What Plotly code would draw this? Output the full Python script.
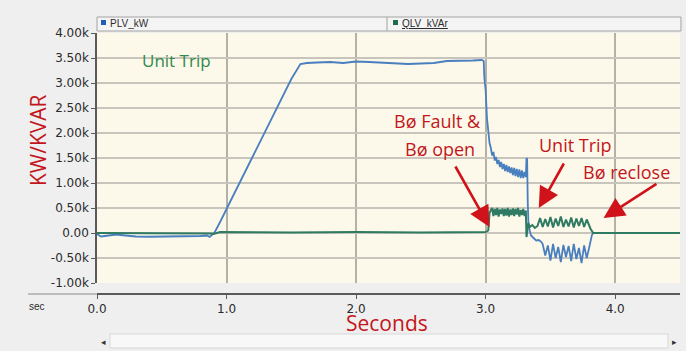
import plotly.graph_objects as go

# ---- data -------------------------------------------------------------
y_tick_vals = [4000, 3500, 3000, 2500, 2000, 1500, 1000, 500, 0, -500, -1000]
y_tick_text = ["4.00k", "3.50k", "3.00k", "2.50k", "2.00k", "1.50k", "1.00k",
               "0.50k", "0.00", "-0.50k", "-1.00k"]
x_tick_vals = [0, 1, 2, 3, 4]
x_tick_text = ["0.0", "1.0", "2.0", "3.0", "4.0"]

# active power PLV_kW (kW): idle, ramp, plateau
plv_t_run = [0.00, 0.03, 0.06, 0.10, 0.15, 0.20, 0.30, 0.40, 0.50, 0.60, 0.70,
             0.80, 0.85, 0.87, 0.89, 0.91, 0.95, 1.00, 1.10, 1.20, 1.30, 1.40,
             1.50, 1.57, 1.62, 1.70, 1.80, 1.90, 2.00, 2.10, 2.20, 2.30, 2.40,
             2.50, 2.60, 2.70, 2.80, 2.90, 2.97]
plv_kw_run = [-20, -70, -60, -40, -30, -45, -70, -75, -75, -70, -65,
              -60, -50, -80, -30, 20, 220, 470, 1000, 1520, 2040, 2570,
              3080, 3380, 3400, 3410, 3420, 3400, 3430, 3420, 3410, 3390, 3380,
              3390, 3400, 3440, 3440, 3450, 3460]
# fault, breaker open and unit trip
plv_t_fault = [2.985, 2.99, 3.00, 3.01, 3.02, 3.03, 3.04, 3.05, 3.06, 3.07, 3.08,
               3.09, 3.10, 3.11, 3.12, 3.13, 3.14, 3.15, 3.16, 3.17, 3.18, 3.19,
               3.20, 3.21, 3.22, 3.23, 3.24, 3.25, 3.26, 3.27, 3.28, 3.29, 3.30,
               3.31, 3.315, 3.32, 3.325, 3.33, 3.34, 3.35, 3.37, 3.39, 3.41, 3.43]
plv_kw_fault = [3440, 3100, 2850, 2300, 2020, 1800, 1700, 1550, 1620, 1450, 1520,
                1380, 1460, 1320, 1420, 1280, 1380, 1240, 1360, 1220, 1330, 1200,
                1310, 1160, 1300, 1140, 1280, 1120, 1270, 1100, 1250, 1100, 1220,
                1120, 1500, 1480, 600, 200, 50, -50, -100, -150, -140, -180]
# oscillation until reclose, then idle
plv_t_tail = [3.44, 3.46, 3.48, 3.50, 3.52, 3.54, 3.56, 3.58, 3.60, 3.62, 3.64,
              3.66, 3.68, 3.70, 3.72, 3.74, 3.76, 3.78, 3.80, 3.81, 3.82, 3.83,
              3.90, 4.00, 4.20, 4.50]
plv_kw_tail = [-220, -450, -250, -550, -220, -500, -280, -580, -240, -480, -260,
               -560, -220, -520, -300, -600, -250, -500, -280, -150, -40, 0,
               0, 10, 0, 0]

# reactive power QLV_kVAr (kVAr)
qlv_t = [0.00, 0.50, 0.88, 0.90, 0.95, 1.50, 2.00, 2.50, 3.00, 3.02, 3.03, 3.04,
         3.05, 3.06, 3.07, 3.08, 3.09, 3.10, 3.11, 3.12, 3.13, 3.14, 3.15, 3.16,
         3.17, 3.18, 3.19, 3.20, 3.21, 3.22, 3.23, 3.24, 3.25, 3.26, 3.27, 3.28,
         3.29, 3.30, 3.31, 3.315, 3.32, 3.33, 3.34, 3.36, 3.38, 3.40, 3.42, 3.44,
         3.46, 3.48, 3.50, 3.52, 3.54, 3.56, 3.58, 3.60, 3.62, 3.64, 3.66, 3.68,
         3.70, 3.72, 3.74, 3.76, 3.78, 3.80, 3.81, 3.83, 4.00, 4.50]
qlv_kvar = [0, 0, -10, -20, 20, 10, 20, 10, 20, 50, 400, 460,
            500, 340, 480, 360, 500, 330, 470, 380, 490, 340, 480, 350,
            500, 330, 470, 360, 490, 340, 480, 370, 500, 330, 460, 360,
            480, 340, 450, -80, 50, 200, 120, 160, 100, 140, 300, 120,
            280, 130, 320, 110, 290, 140, 330, 120, 270, 130, 310, 110,
            290, 140, 300, 120, 270, 130, 80, 0, 0, 0]

plv_t = plv_t_run + plv_t_fault + plv_t_tail
plv_kw = plv_kw_run + plv_kw_fault + plv_kw_tail

# ---- layout geometry (pixels) -----------------------------------------
W, H = 686, 351
ML, MR, MT, MB = 97, 6, 33, 57
PW, PH = W - ML - MR, H - MT - MB


def fx(px):
    return (px - ML) / PW


def fy(py):
    return (H - MB - py) / PH


RED = "#c3161c"
GREEN = "#2e8a4c"
TXT = "#2b2b2b"

fig = go.Figure()
fig.add_trace(go.Scatter(x=plv_t, y=plv_kw, mode="lines", name="PLV_kW",
                         line=dict(color="#4a7fbf", width=1.8)))
fig.add_trace(go.Scatter(x=qlv_t, y=qlv_kvar, mode="lines", name="QLV_kVAr",
                         line=dict(color="#2f7a62", width=2)))

fig.update_layout(
    width=W, height=H,
    margin=dict(l=ML, r=MR, t=MT, b=MB),
    paper_bgcolor="#efefef",
    plot_bgcolor="#fdf9ea",
    showlegend=False,
    font=dict(family="DejaVu Sans", size=12, color=TXT),
    xaxis=dict(range=[0, 4.5], tickvals=x_tick_vals, ticktext=x_tick_text,
               anchor="free", position=0, showline=True, linecolor="#5a5a5a",
               linewidth=1.5, ticks="outside", ticklen=4, tickcolor="#5a5a5a",
               showgrid=True, gridcolor="#b3b1a8", gridwidth=1.5,
               zeroline=False, tickfont=dict(size=12, color=TXT)),
    yaxis=dict(range=[-1000, 4000], domain=[fy(283), 1],
               tickvals=y_tick_vals, ticktext=y_tick_text,
               showline=True, linecolor="#5a5a5a", linewidth=1.5,
               ticks="outside", ticklen=4, tickcolor="#5a5a5a",
               showgrid=True, gridcolor="#c8c6bc", gridwidth=1.5,
               zeroline=False, tickfont=dict(size=12, color=TXT)),
)

shapes = []
# header strip holding the series names
shapes.append(dict(type="rect", xref="paper", yref="paper",
                   x0=fx(97), x1=fx(681), y0=fy(31), y1=fy(17),
                   fillcolor="#f4f4f4", line=dict(color="#a3a3a3", width=1)))
shapes.append(dict(type="line", xref="paper", yref="paper",
                   x0=fx(387), x1=fx(387), y0=fy(31), y1=fy(17),
                   line=dict(color="#a3a3a3", width=1)))
shapes.append(dict(type="rect", xref="paper", yref="paper",
                   x0=fx(101), x1=fx(106), y0=fy(25), y1=fy(20),
                   fillcolor="#1f5fb4", line=dict(width=0)))
shapes.append(dict(type="rect", xref="paper", yref="paper",
                   x0=fx(393), x1=fx(398), y0=fy(25), y1=fy(20),
                   fillcolor="#1e6e4e", line=dict(width=0)))
# baseline extension under the "sec" label
shapes.append(dict(type="line", xref="paper", yref="paper",
                   x0=fx(28), x1=fx(97), y0=fy(294), y1=fy(294),
                   line=dict(color="#8a8a8a", width=1)))
# scrollbar track
shapes.append(dict(type="rect", xref="paper", yref="paper",
                   x0=fx(110), x1=fx(668), y0=fy(348), y1=fy(334),
                   fillcolor="#f8f8f8", line=dict(color="#d8d8d8", width=1)))
fig.update_layout(shapes=shapes)

ann = []


def label(text, px, py, color, size, family="Open Sans", xanchor="center", **kw):
    ann.append(dict(text=text, x=fx(px), y=fy(py), xref="paper", yref="paper",
                    showarrow=False, font=dict(family=family, size=size, color=color),
                    xanchor=xanchor, yanchor="middle", **kw))


label("PLV_kW", 108, 24, TXT, 10, family="Liberation Sans", xanchor="left")
label("<u>QLV_kVAr</u>", 400, 24, TXT, 10, family="Liberation Sans", xanchor="left")
label("sec", 37, 306, TXT, 10, family="Liberation Sans")
label("Seconds", 387, 323, RED, 21)
label("KW/KVAR", 38, 140, RED, 21, textangle=-90)
label("◂", 103, 341, "#333", 9)
label("▸", 674, 341, "#333", 9)

# in-plot notes
label("Unit Trip", 176, 60, GREEN, 17)
label("Bø Fault &", 437, 121, RED, 18)
label("Bø open", 440, 149, RED, 18)
label("Unit Trip", 575, 145, RED, 18)
label("Bø reclose", 626, 172, RED, 18)

# arrows pointing at the events (tip, tail in data units)
arrows = [((3.03, 120), (2.76, 1360)),
          ((3.41, 500), (3.61, 1420)),
          ((3.91, 300), (4.33, 1000))]
for (tx, ty), (sx, sy) in arrows:
    ann.append(dict(x=tx, y=ty, ax=sx, ay=sy, xref="x", yref="y",
                    axref="x", ayref="y", text="", showarrow=True,
                    arrowhead=2, arrowsize=1.6, arrowwidth=2.6,
                    arrowcolor="#d0131a"))

fig.update_layout(annotations=ann)
fig.write_html("out.html")
